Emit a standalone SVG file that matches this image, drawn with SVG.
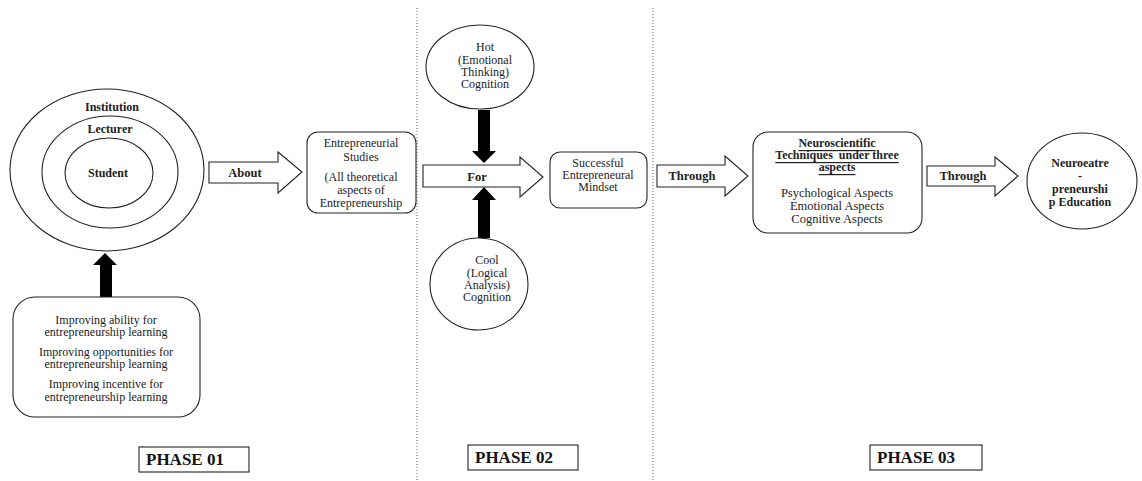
<svg xmlns="http://www.w3.org/2000/svg" width="1142" height="481" viewBox="0 0 1142 481">
  <style>
    .shape { fill: #ffffff; stroke: #222222; stroke-width: 1.1; }
    .block { fill: #000000; stroke: none; }
    .divider { fill: none; stroke: #666666; stroke-width: 1; stroke-dasharray: 1 2; }
    .t { font-family: "Liberation Serif", "Times New Roman", serif; font-size: 12px; fill: #222222; text-anchor: middle; dominant-baseline: central; }
    .b { font-weight: bold; }
    .lbl { font-size: 12.5px; }
    .phase { font-family: "Liberation Serif", "Times New Roman", serif; font-size: 17px; font-weight: bold; fill: #111111; dominant-baseline: central; }
  </style>

  <!-- phase dividers -->
  <g id="dividers">
    <line class="divider" x1="417" y1="8" x2="417" y2="481"/>
    <line class="divider" x1="653" y1="8" x2="653" y2="481"/>
  </g>

  <!-- connectors: block arrows -->
  <g id="connectors">
    <!-- learning box up to the circles -->
    <polygon class="block" points="100,297 112,297 112,265 117,265 105,253 93,265 100,265"/>
    <!-- About -->
    <polygon class="shape" points="209,162 278,162 278,152 302,172 278,193 278,183 209,183"/>
    <text class="t b lbl" x="245" y="173">About</text>
    <!-- For -->
    <polygon class="shape" points="423,165 520,165 520,157 543,177 520,197 520,187 423,187"/>
    <text class="t b lbl" x="477" y="177">For</text>
    <!-- Hot cognition down -->
    <polygon class="block" points="478,110 490,110 490,151 496,151 484,163 472,151 478,151"/>
    <!-- Cool cognition up -->
    <polygon class="block" points="478,238 490,238 490,200 496,200 484,187 472,200 478,200"/>
    <!-- Through (1) -->
    <polygon class="shape" points="657,165 725,165 725,156 748,176 725,196 725,187 657,187"/>
    <text class="t b lbl" x="692" y="176">Through</text>
    <!-- Through (2) -->
    <polygon class="shape" points="927,166 995,166 995,157 1018,176 995,196 995,186 927,186"/>
    <text class="t b lbl" x="963" y="176">Through</text>
  </g>

  <!-- phase 01 -->
  <g id="actors">
    <ellipse class="shape" cx="107" cy="170" rx="97" ry="81"/>
    <ellipse class="shape" cx="110" cy="172" rx="68" ry="56"/>
    <ellipse class="shape" cx="109" cy="173" rx="44" ry="35"/>
    <text class="t b" x="112" y="107">Institution</text>
    <text class="t b" x="110" y="129">Lecturer</text>
    <text class="t b" x="108" y="173">Student</text>
  </g>

  <g id="learning">
    <rect class="shape" x="13" y="297" width="187" height="120" rx="22"/>
    <text class="t" x="106" y="320">Improving ability for</text>
    <text class="t" x="106" y="332">entrepreneurship learning</text>
    <text class="t" x="106" y="352">Improving opportunities for</text>
    <text class="t" x="106" y="364">entrepreneurship learning</text>
    <text class="t" x="106" y="384">Improving incentive for</text>
    <text class="t" x="106" y="397">entrepreneurship learning</text>
  </g>

  <g id="studies">
    <rect class="shape" x="307" y="132" width="109" height="81" rx="11"/>
    <text class="t" x="361" y="143">Entrepreneurial</text>
    <text class="t" x="361" y="157">Studies</text>
    <text class="t" x="361" y="177">(All theoretical</text>
    <text class="t" x="361" y="190">aspects of</text>
    <text class="t" x="361" y="203">Entrepreneurship</text>
  </g>

  <g id="phase01">
    <rect class="shape" x="139" y="447" width="110" height="25"/>
    <text class="phase" x="146" y="459.5">PHASE 01</text>
  </g>

  <!-- phase 02 -->
  <g id="hot">
    <ellipse class="shape" cx="480" cy="67" rx="54" ry="42"/>
    <text class="t" x="485" y="47">Hot</text>
    <text class="t" x="485" y="60">(Emotional</text>
    <text class="t" x="485" y="72">Thinking)</text>
    <text class="t" x="485" y="84">Cognition</text>
  </g>

  <g id="cool">
    <ellipse class="shape" cx="479" cy="284" rx="49" ry="46"/>
    <text class="t" x="487" y="260">Cool</text>
    <text class="t" x="487" y="273">(Logical</text>
    <text class="t" x="487" y="285">Analysis)</text>
    <text class="t" x="487" y="297">Cognition</text>
  </g>

  <g id="mindset">
    <rect class="shape" x="550" y="152" width="97" height="56" rx="10"/>
    <text class="t" x="598" y="163">Successful</text>
    <text class="t" x="598" y="175">Entrepreneural</text>
    <text class="t" x="598" y="187">Mindset</text>
  </g>

  <g id="phase02">
    <rect class="shape" x="468" y="445" width="110" height="25"/>
    <text class="phase" x="475" y="457.5">PHASE 02</text>
  </g>

  <!-- phase 03 -->
  <g id="techniques">
    <rect class="shape" x="753" y="132" width="169" height="101" rx="15"/>
    <text class="t b" x="837" y="143" text-decoration="underline">Neuroscientific</text>
    <text class="t b" x="837" y="155" text-decoration="underline" xml:space="preserve">Techniques  under three</text>
    <text class="t b" x="837" y="167" text-decoration="underline">aspects</text>
    <text class="t lbl" x="837" y="193">Psychological Aspects</text>
    <text class="t lbl" x="837" y="206">Emotional Aspects</text>
    <text class="t lbl" x="837" y="219">Cognitive Aspects</text>
  </g>

  <g id="education">
    <ellipse class="shape" cx="1082" cy="181" rx="55" ry="48"/>
    <text class="t b" x="1080" y="163">Neuroeatre</text>
    <text class="t b" x="1080" y="176">-</text>
    <text class="t b" x="1080" y="189">preneurshi</text>
    <text class="t b" x="1080" y="202">p Education</text>
  </g>

  <g id="phase03">
    <rect class="shape" x="870" y="445" width="112" height="25"/>
    <text class="phase" x="877" y="457.5">PHASE 03</text>
  </g>
</svg>
